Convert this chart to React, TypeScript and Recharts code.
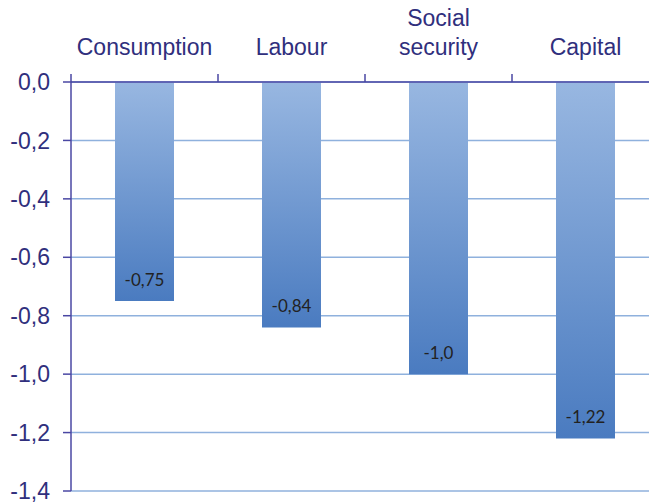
import React from "react"
import { Bar, BarChart, CartesianGrid, LabelList, XAxis, YAxis } from "recharts"

const categories = ["Consumption", "Labour", "Social\nsecurity", "Capital"]
const values = [-0.75, -0.84, -1.0, -1.22]
const valueLabels = ["-0,75", "-0,84", "-1,0", "-1,22"]
const yTicks = [0, -0.2, -0.4, -0.6, -0.8, -1.0, -1.2, -1.4]
const yTickLabels = ["0,0", "-0,2", "-0,4", "-0,6", "-0,8", "-1,0", "-1,2", "-1,4"]

const data = categories.map((c, i) => ({ name: c, value: values[i], label: valueLabels[i] }))

const AXIS = "#4a47a3"
const TEXT = "#302f7d"
const GRID = "#8fb1dd"
const FONT = "'Liberation Sans', Arial, sans-serif"

const W = 659
const H = 504
const PLOT_LEFT = 71
const BAND = (W - PLOT_LEFT) / categories.length

const CategoryTick = ({ x, y, payload }: any) => {
  const lines = String(payload.value).split("\n")
  return (
    <g>
      <line x1={x - BAND / 2} x2={x - BAND / 2} y1={y} y2={y - 8} stroke={AXIS} strokeWidth={1.5} />
      {lines.map((ln, i) => (
        <text
          key={i}
          x={x}
          y={y - 27 - (lines.length - 1 - i) * 29}
          textAnchor="middle"
          fill={TEXT}
          fontSize={23}
          fontFamily={FONT}
        >
          {ln}
        </text>
      ))}
    </g>
  )
}

const ValueLabel = (props: any) => {
  const { x, y, width, height, index } = props
  const bottom = Math.max(y, y + height)
  return (
    <text
      x={x + width / 2}
      y={bottom - 22}
      textAnchor="middle"
      dominantBaseline="central"
      fill="#222"
      fontSize={17}
      fontFamily="Lato, sans-serif"
    >
      {valueLabels[index]}
    </text>
  )
}

export default function App() {
  return (
    <div style={{ position: "absolute", left: 0, top: 0, width: 649, height: H, overflow: "hidden", background: "#fff" }}>
      <BarChart width={W} height={H} data={data} margin={{ top: 0, right: 0, left: 0, bottom: 13 }}>
        <defs>
          <linearGradient id="barFill" x1="0" y1="0" x2="0" y2="1">
            <stop offset="0%" stopColor="#98b7e1" />
            <stop offset="100%" stopColor="#4a7bc0" />
          </linearGradient>
        </defs>
        <CartesianGrid vertical={false} stroke={GRID} strokeWidth={1.5} />
        <XAxis
          dataKey="name"
          orientation="top"
          height={82}
          axisLine={{ stroke: AXIS, strokeWidth: 1.5 }}
          tickLine={false}
          tickSize={0}
          tickMargin={0}
          tick={<CategoryTick />}
          interval={0}
        />
        <YAxis
          type="number"
          domain={[-1.4, 0]}
          ticks={yTicks}
          width={PLOT_LEFT}
          axisLine={{ stroke: AXIS, strokeWidth: 1.5 }}
          tickLine={{ stroke: AXIS, strokeWidth: 1.5 }}
          tickSize={8}
          tickMargin={13}
          tickFormatter={(v: number) => yTickLabels[yTicks.indexOf(v)] ?? String(v)}
          tick={{ fill: TEXT, fontSize: 23, fontFamily: FONT }}
          interval={0}
        />
        <Bar dataKey="value" fill="url(#barFill)" barSize={59} isAnimationActive={false}>
          <LabelList dataKey="label" content={<ValueLabel />} />
        </Bar>
      </BarChart>
    </div>
  )
}
